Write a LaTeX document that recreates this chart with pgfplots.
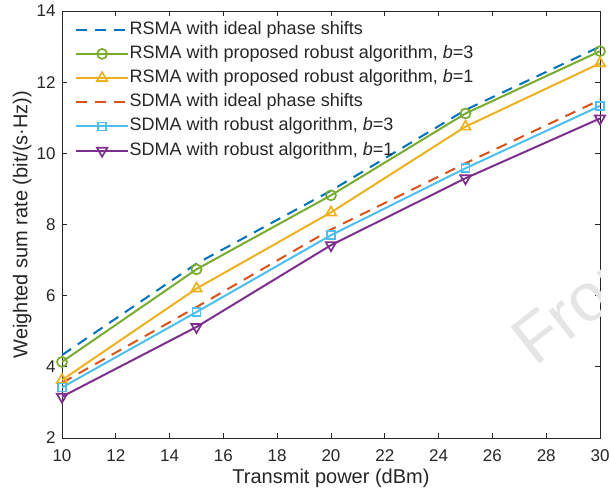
\documentclass[border=0pt]{standalone}
\usepackage{fontspec}
\setmainfont{Liberation Sans}
\usepackage{pgfplots}
\pgfplotsset{compat=1.18}
\definecolor{axisgray}{RGB}{38,38,38}
\definecolor{mblue}{RGB}{0,114,189}
\definecolor{mgreen}{RGB}{119,172,48}
\definecolor{myellow}{RGB}{237,177,32}
\definecolor{mred}{RGB}{217,83,25}
\definecolor{mlblue}{RGB}{77,190,238}
\definecolor{mpurple}{RGB}{126,47,142}
\begin{document}
\begin{tikzpicture}
\useasboundingbox (-62pt,-58pt) rectangle (548pt,438pt);
\begin{axis}[
  at={(0,0)}, anchor=south west,
  scale only axis, width=538pt, height=427pt,
  xmin=10, xmax=30, ymin=2, ymax=14,
  xtick={10,12,...,30}, ytick={2,4,...,14},
  tick align=inside, major tick length=5pt,
  axis line style={color=axisgray, line width=0.8pt},
  every tick/.style={color=axisgray, line width=0.8pt},
  /pgf/number format/assume math mode=true,
  ticklabel style={font=\fontsize{17}{17}\selectfont, text=axisgray},
  xticklabel style={yshift=-8pt},
  yticklabel style={xshift=-3pt},
  xlabel={Transmit power (dBm)},
  ylabel={Weighted sum rate (bit/(s·Hz))},
  label style={font=\fontsize{20}{20}\selectfont, text=axisgray},
  xlabel style={at={(axis description cs:0.5,-0.0937)}, anchor=center},
  ylabel style={at={(axis description cs:-0.074,0.5)}, anchor=center},
  legend image code/.code={\draw[mark repeat=2,mark phase=2,#1] plot coordinates {(0pt,0pt)(26pt,0pt)(52pt,0pt)};},
  legend cell align=left,
  legend style={at={(axis description cs:0.024,0.978)}, anchor=north west,
    draw=none, fill=none, inner sep=0pt, row sep=6pt,
    font=\fontsize{18}{18}\selectfont, text=axisgray,
    nodes={inner sep=0.6pt, text height=13pt, text depth=4pt}},
  every axis plot/.append style={line width=2pt},
]
\node[rotate=38, anchor=base west, inner sep=0pt, text=black!10,
  font=\fontsize{68}{68}\selectfont] at (axis cs:27.58,3.97) {From};

\addplot[color=mblue, dash pattern=on 11pt off 8pt] coordinates {
(10,4.33) (15,6.9) (20,8.95) (25,11.22) (30,13.0)};
\addlegendentry{RSMA with ideal phase shifts}

\addplot[color=mgreen, mark=o, mark size=5pt, mark options={solid, line width=1.7pt}] coordinates {
(10,4.14) (15,6.74) (20,8.82) (25,11.12) (30,12.87)};
\addlegendentry{RSMA with proposed robust algorithm, \textit{b}=3}

\addplot[color=myellow, mark=triangle, mark size=6pt, mark options={solid, line width=1.7pt}] coordinates {
(10,3.63) (15,6.2) (20,8.34) (25,10.75) (30,12.53)};
\addlegendentry{RSMA with proposed robust algorithm, \textit{b}=1}

\addplot[color=mred, dash pattern=on 11pt off 8pt] coordinates {
(10,3.55) (15,5.68) (20,7.86) (25,9.72) (30,11.5)};
\addlegendentry{SDMA with ideal phase shifts}

\addplot[color=mlblue, mark=square, mark size=4pt, mark options={solid, line width=1.7pt}] coordinates {
(10,3.42) (15,5.54) (20,7.70) (25,9.58) (30,11.33)};
\addlegendentry{SDMA with robust algorithm, \textit{b}=3}

\addplot[color=mpurple, mark=triangle, mark size=6pt, mark options={solid, line width=1.7pt, rotate=180}] coordinates {
(10,3.16) (15,5.12) (20,7.42) (25,9.30) (30,10.98)};
\addlegendentry{SDMA with robust algorithm, \textit{b}=1}
\end{axis}
\end{tikzpicture}
\end{document}
